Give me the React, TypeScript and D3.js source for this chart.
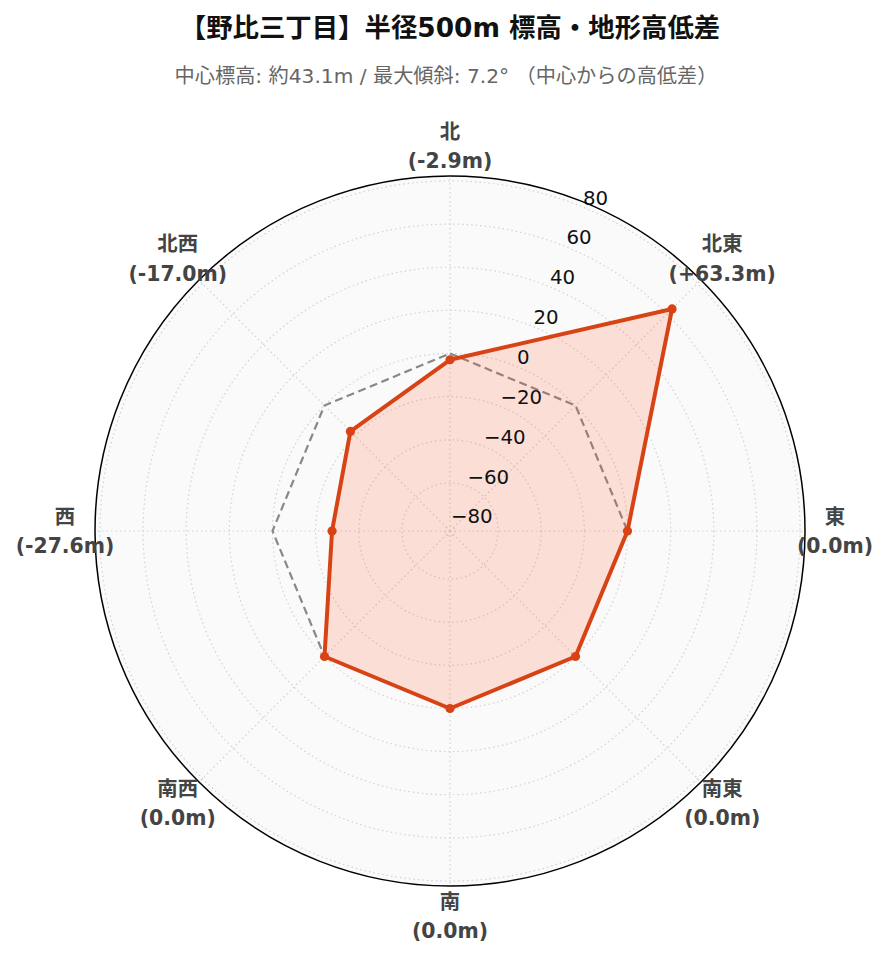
import React from "react";
import * as d3 from "d3";

const titleText = "【野比三丁目】半径500m 標高・地形高低差";
const subtitleText = "中心標高: 約43.1m / 最大傾斜: 7.2° （中心からの高低差）";
const directions = ["北", "北東", "東", "南東", "南", "南西", "西", "北西"];
const elevDiffs = [-2.9, 63.3, 0.0, 0.0, 0.0, 0.0, -27.6, -17.0];
const referenceValues = [0, 0, 0, 0, 0, 0, 0, 0];
const radialTicks = [-80, -60, -40, -20, 0, 20, 40, 60, 80];

const W = 887;
const H = 962;
const cx = 450;
const cy = 531;
const R = 355;
const LINE = "#d84315";
const FILL = "#ff5722";
const CJK = "'DejaVu Sans', 'Noto Sans CJK JP', sans-serif";

export default function App() {
  const maxAbs = d3.max(elevDiffs, (d) => Math.abs(d)) as number;
  const lim = maxAbs * 1.3;
  const r = d3.scaleLinear().domain([-lim, lim]).range([0, R]);
  const n = directions.length;
  const ang = d3.scaleLinear().domain([0, n]).range([0, 2 * Math.PI]);

  const radial = d3
    .lineRadial<number>()
    .angle((_, i) => ang(i))
    .radius((d) => r(d))
    .curve(d3.curveLinearClosed);

  const pt = (i: number, rad: number) => {
    const a = ang(i);
    return [cx + rad * Math.sin(a), cy - rad * Math.cos(a)];
  };

  const labelAngle = (22.5 * Math.PI) / 180;

  const fmt = (v: number) =>
    v > 0 ? `(+${v.toFixed(1)}m)` : `(${v.toFixed(1)}m)`;

  return (
    <svg
      width={W}
      height={H}
      style={{ position: "absolute", left: 0, top: 0, background: "#fff" }}
      fontFamily={CJK}
    >
      <rect x={0} y={0} width={W} height={H} fill="#fff" />
      <text
        x={450}
        y={27}
        textAnchor="middle"
        dominantBaseline="central"
        fontSize={26.4}
        fontWeight="bold"
        fill="#111"
      >
        {titleText}
      </text>
      <text
        x={446}
        y={76}
        textAnchor="middle"
        dominantBaseline="central"
        fontSize={20.2}
        fill="#666"
      >
        {subtitleText}
      </text>

      <g>
        <circle cx={cx} cy={cy} r={R} fill="#fafafa" />
        {radialTicks.map((t) => (
          <circle
            key={"g" + t}
            cx={cx}
            cy={cy}
            r={r(t)}
            fill="none"
            stroke="#d2d2d2"
            strokeWidth={1.2}
            strokeDasharray="1.5,3"
          />
        ))}
        {directions.map((_, i) => {
          const [x, y] = pt(i, R);
          return (
            <line
              key={"s" + i}
              x1={cx}
              y1={cy}
              x2={x}
              y2={y}
              stroke="#d2d2d2"
              strokeWidth={1.2}
              strokeDasharray="1.5,3"
            />
          );
        })}

        <path
          d={radial(referenceValues) as string}
          transform={`translate(${cx},${cy})`}
          fill="none"
          stroke="#888"
          strokeWidth={2.2}
          strokeDasharray="8,4.5"
        />

        <path
          d={radial(elevDiffs) as string}
          transform={`translate(${cx},${cy})`}
          fill={FILL}
          fillOpacity={0.17}
          stroke={LINE}
          strokeWidth={4}
          strokeLinejoin="round"
        />
        {elevDiffs.map((v, i) => {
          const [x, y] = pt(i, r(v));
          return <circle key={"m" + i} cx={x} cy={y} r={4.6} fill={LINE} />;
        })}

        {radialTicks.map((t) => {
          const rr = r(t);
          const x = cx + rr * Math.sin(labelAngle);
          const y = cy - rr * Math.cos(labelAngle);
          return (
            <text
              key={"t" + t}
              x={x - 1}
              y={y - 3}
              fontSize={19.8}
              fill="#111"
              fontFamily="'DejaVu Sans', sans-serif"
            >
              {t < 0 ? "\u2212" + Math.abs(t) : String(t)}
            </text>
          );
        })}

        <circle cx={cx} cy={cy} r={R} fill="none" stroke="#000" strokeWidth={1.5} />

        {directions.map((dname, i) => {
          const [x, y] = pt(i, 385);
          return (
            <g key={"l" + i} fontWeight="bold" fontSize={20.4} fill="#444" textAnchor="middle">
              <text x={x} y={y - 14.5} dominantBaseline="central">
                {dname}
              </text>
              <text x={x} y={y + 15} dominantBaseline="central">
                {fmt(elevDiffs[i])}
              </text>
            </g>
          );
        })}
      </g>
    </svg>
  );
}
